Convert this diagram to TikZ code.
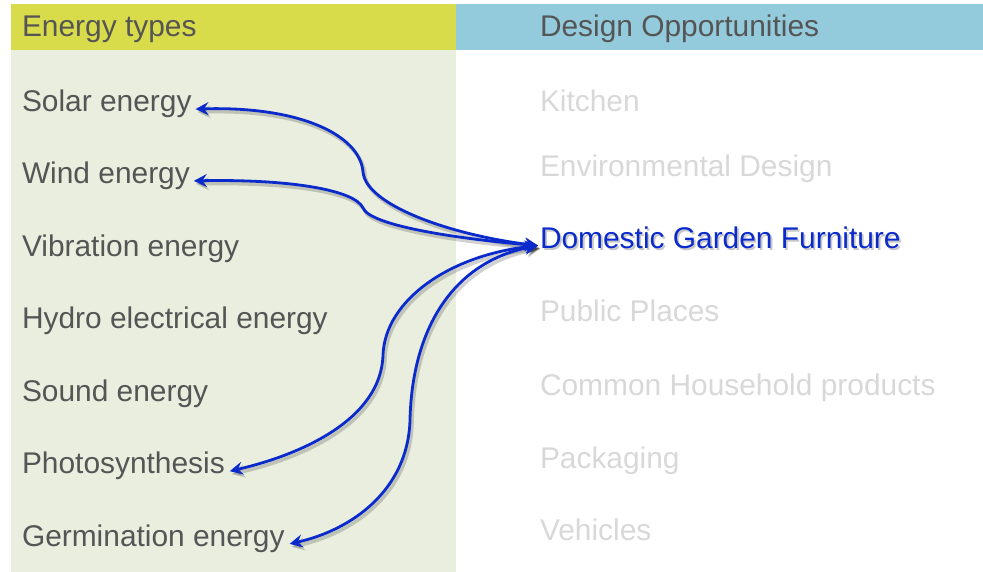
\documentclass[tikz,border=0pt]{standalone}
\usepackage{fontspec}
\setmainfont{Liberation Sans}
\usetikzlibrary{arrows.meta}

\definecolor{headyellow}{RGB}{217,220,74}
\definecolor{headblue}{RGB}{147,203,220}
\definecolor{panelgreen}{RGB}{234,238,223}
\definecolor{textgray}{RGB}{85,85,85}
\definecolor{fadegray}{RGB}{216,216,216}
\definecolor{linkblue}{RGB}{10,42,204}

\tikzset{
  label/.style={inner sep=0pt, outer sep=0pt, anchor=base west,
    font=\fontsize{29.9}{32}\selectfont},
  head/.style={label, text=textgray},
  itemL/.style={label, text=textgray},
  itemR/.style={label, text=fadegray},
  focus/.style={label, text=linkblue},
  tipshape/.style={Stealth[length=13pt,width=13pt,inset=4.5pt]},
  link/.style={draw=linkblue, line width=2.8pt, {Stealth[length=13pt,width=13pt,inset=4.5pt]}-{Stealth[length=13pt,width=13pt,inset=4.5pt]}},
  linkshadow/.style={draw=black, line width=3.6pt, opacity=0.18,
    {Stealth[length=13pt,width=13pt,inset=4.5pt]}-{Stealth[length=13pt,width=13pt,inset=4.5pt]}},
}

\begin{document}
\begin{tikzpicture}[x=1pt,y=-1pt]
\useasboundingbox (0,0) rectangle (983,572);

% column backgrounds and header bars
\fill[panelgreen] (11,50) rectangle (456,572);
\fill[headyellow] (11,4) rectangle (456,50);
\fill[headblue] (456,4) rectangle (983,50);

% headers
\node[head] (hEnergy) at (22,36.7) {Energy types};
\node[head] (hDesign) at (540,36.7) {Design Opportunities};

% energy types
\node[itemL] (solar)  at (22,111.7) {Solar energy};
\node[itemL] (wind)   at (22,183.5) {Wind energy};
\node[itemL] (vib)    at (22,256.3) {Vibration energy};
\node[itemL] (hydro)  at (22,328.8) {Hydro electrical energy};
\node[itemL] (sound)  at (22,401.3) {Sound energy};
\node[itemL] (photo)  at (22,473.8) {Photosynthesis};
\node[itemL] (germ)   at (22,546.5) {Germination energy};

% design opportunities
\node[itemR] (kitchen) at (540,111.7) {Kitchen};
\node[itemR] (envdes)  at (540,176.7) {Environmental Design};
\node[text=black, opacity=0.22, label] (dgfshadow) at (541.8,250.3) {Domestic Garden Furniture};
\node[focus] (dgf)     at (540,248.3) {Domestic Garden Furniture};
\node[itemR] (public)  at (540,321.7) {Public Places};
\node[itemR] (common)  at (540,395) {Common Household products};
\node[itemR] (pack)    at (540,468) {Packaging};
\node[itemR] (vehic)   at (540,540) {Vehicles};

% connector routes
\def\routesolar{([xshift=-2pt]dgf.mid west) .. controls (450,235) and (366,205) .. (363,172)
  .. controls (360,135) and (300,106) .. ([xshift=4pt]solar.mid east)}
\def\routewind{([xshift=-2pt]dgf.mid west) .. controls (450,238) and (370,225) .. (363,208)
  .. controls (355,190) and (290,179) .. ([xshift=4pt]wind.mid east)}
\def\routephoto{([xshift=-2pt]dgf.mid west) .. controls (450,255) and (385,300) .. (383,355)
  .. controls (381,420) and (300,455) .. ([xshift=5pt]photo.mid east)}
\def\routegerm{([xshift=-2pt]dgf.mid west) .. controls (452,262) and (412,330) .. (410,420)
  .. controls (408,490) and (352,530) .. ([xshift=5pt]germ.mid east)}

% soft drop shadows under the connectors
\begin{scope}[transform canvas={shift={(2pt,-3pt)}}]
  \path[linkshadow] \routesolar;
  \path[linkshadow] \routewind;
  \path[linkshadow] \routephoto;
  \path[linkshadow] \routegerm;
\end{scope}

% connectors
\path[link] \routesolar;
\path[link] \routewind;
\path[link] \routephoto;
\path[link] \routegerm;
\end{tikzpicture}
\end{document}
